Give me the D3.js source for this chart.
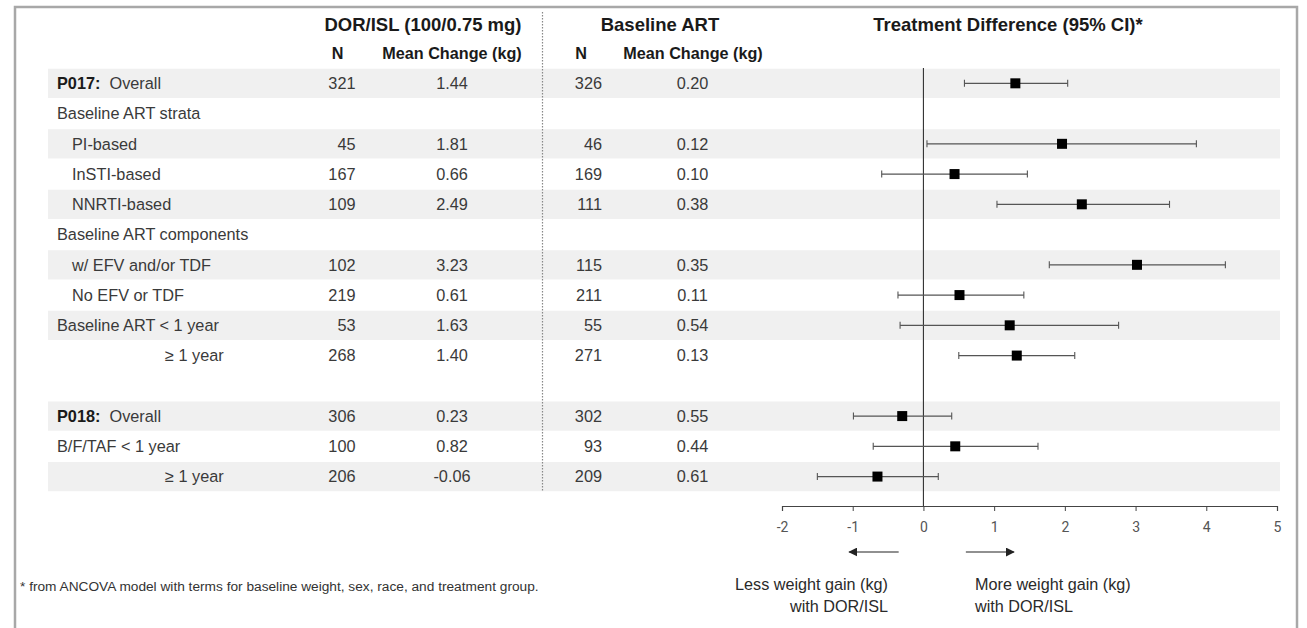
<!DOCTYPE html>
<html><head><meta charset="utf-8">
<script src="https://cdn.jsdelivr.net/npm/d3@7"></script>
<style>
html,body{margin:0;padding:0;background:#fff;}
svg text{font-family:"Liberation Sans",Arial,sans-serif;}
</style></head>
<body>
<svg id="chart" width="1307" height="628"></svg>
<script>
// ---------- data ----------
const labelBold = ["P017:", "", "", "", "", "", "", "", "", "", "", "P018:", "", ""];
const labelText = ["  Overall", "Baseline ART strata", "PI-based", "InSTI-based", "NNRTI-based",
  "Baseline ART components", "w/ EFV and/or TDF", "No EFV or TDF", "Baseline ART < 1 year",
  "\u2265 1 year", "", "  Overall", "B/F/TAF < 1 year", "\u2265 1 year"];
const labelLevel = [0, 0, 1, 1, 1, 0, 1, 1, 0, 2, 0, 0, 0, 2];
const nDor   = [321, null, 45, 167, 109, null, 102, 219, 53, 268, null, 306, 100, 206];
const mcDor  = [1.44, null, 1.81, 0.66, 2.49, null, 3.23, 0.61, 1.63, 1.40, null, 0.23, 0.82, -0.06];
const nBase  = [326, null, 46, 169, 111, null, 115, 211, 55, 271, null, 302, 93, 209];
const mcBase = [0.20, null, 0.12, 0.10, 0.38, null, 0.35, 0.11, 0.54, 0.13, null, 0.55, 0.44, 0.61];
const diffEst = [1.30, null, 1.96, 0.44, 2.24, null, 3.02, 0.51, 1.22, 1.32, null, -0.30, 0.45, -0.65];
const diffLo  = [0.58, null, 0.05, -0.59, 1.04, null, 1.78, -0.36, -0.33, 0.50, null, -0.99, -0.71, -1.50];
const diffHi  = [2.04, null, 3.86, 1.47, 3.48, null, 4.27, 1.42, 2.76, 2.14, null, 0.40, 1.62, 0.21];
const xTicks = [-2, -1, 0, 1, 2, 3, 4, 5];

// ---------- layout ----------
const svg = d3.select("#chart");
const idx = d3.range(labelText.length);
const y = d3.scaleBand().domain(idx).range([68.2, 68.2 + 14 * 30.25]).padding(0);
const x = d3.scaleLinear().domain([-2, 5]).range([782, 1277]);
const indentPx = [57, 72, 165];
const textCol = "#3a3a3a";
const fmt = v => v.toFixed(2);

// frame
svg.append("rect").attr("x", 15).attr("y", 7).attr("width", 1282).attr("height", 640)
  .attr("fill", "none").attr("stroke", "#a8a8a8").attr("stroke-width", 2.5);

// shading (alternating over non-blank rows)
let k = 0;
const shade = idx.map(i => { if (labelText[i] === "" ) return false; const s = k % 2 === 0; k++; return s; });
svg.append("g").selectAll("rect").data(idx.filter(i => shade[i])).join("rect")
  .attr("x", 48).attr("width", 1232).attr("y", i => y(i) + 0.5).attr("height", y.bandwidth() - 1)
  .attr("fill", "#f0f0f0");

// dotted separator
svg.append("line").attr("x1", 542.5).attr("x2", 542.5).attr("y1", 12).attr("y2", 491)
  .attr("stroke", "#888").attr("stroke-width", 1.2).attr("stroke-dasharray", "1.5,1.5");

// headers
const hdr = svg.append("g").attr("fill", "#1a1a1a").attr("font-weight", "bold");
hdr.append("text").attr("x", 423).attr("y", 31).attr("text-anchor", "middle").attr("font-size", 18.5).text("DOR/ISL (100/0.75 mg)");
hdr.append("text").attr("x", 660).attr("y", 31).attr("text-anchor", "middle").attr("font-size", 18.5).text("Baseline ART");
hdr.append("text").attr("x", 1008).attr("y", 31).attr("text-anchor", "middle").attr("font-size", 18.5).text("Treatment Difference (95% CI)*");
hdr.append("text").attr("x", 337.5).attr("y", 59).attr("text-anchor", "middle").attr("font-size", 16.2).text("N");
hdr.append("text").attr("x", 452).attr("y", 59).attr("text-anchor", "middle").attr("font-size", 16.2).text("Mean Change (kg)");
hdr.append("text").attr("x", 581).attr("y", 59).attr("text-anchor", "middle").attr("font-size", 16.2).text("N");
hdr.append("text").attr("x", 693).attr("y", 59).attr("text-anchor", "middle").attr("font-size", 16.2).text("Mean Change (kg)");

// row labels
const rows = svg.append("g").attr("font-size", 16.3).attr("fill", textCol);
rows.selectAll("text.lab").data(idx.filter(i => labelText[i] !== "")).join("text")
  .attr("class", "lab")
  .attr("x", i => indentPx[labelLevel[i]])
  .attr("y", i => y(i) + y.bandwidth() / 2).attr("dy", "0.36em")
  .attr("xml:space", "preserve")
  .each(function(i) {
    const t = d3.select(this);
    if (labelBold[i]) t.append("tspan").attr("font-weight", "bold").attr("fill", "#1a1a1a").text(labelBold[i]);
    t.append("tspan").text(labelText[i]);
  });

// numeric columns
function numCol(vals, xpos, anchor, f) {
  rows.append("g").selectAll("text").data(idx.filter(i => vals[i] !== null)).join("text")
    .attr("x", xpos).attr("text-anchor", anchor)
    .attr("y", i => y(i) + y.bandwidth() / 2).attr("dy", "0.36em")
    .text(i => f(vals[i]));
}
numCol(nDor, 355.5, "end", v => String(v));
numCol(mcDor, 452, "middle", fmt);
numCol(nBase, 602, "end", v => String(v));
numCol(mcBase, 692.5, "middle", fmt);

// zero line
svg.append("line").attr("x1", x(0)).attr("x2", x(0)).attr("y1", 68).attr("y2", 506)
  .attr("stroke", "#333").attr("stroke-width", 1.1);

// forest plot
const fp = svg.append("g");
const fidx = idx.filter(i => diffEst[i] !== null);
fp.selectAll("line.ci").data(fidx).join("line").attr("class", "ci")
  .attr("x1", i => x(diffLo[i])).attr("x2", i => x(diffHi[i]))
  .attr("y1", i => y(i) + y.bandwidth() / 2).attr("y2", i => y(i) + y.bandwidth() / 2)
  .attr("stroke", "#555").attr("stroke-width", 1.1);
["lo", "hi"].forEach(side => {
  fp.selectAll("line.cap" + side).data(fidx).join("line").attr("class", "cap" + side)
    .attr("x1", i => x(side === "lo" ? diffLo[i] : diffHi[i]))
    .attr("x2", i => x(side === "lo" ? diffLo[i] : diffHi[i]))
    .attr("y1", i => y(i) + y.bandwidth() / 2 - 3.5).attr("y2", i => y(i) + y.bandwidth() / 2 + 3.5)
    .attr("stroke", "#555").attr("stroke-width", 1.1);
});
fp.selectAll("rect").data(fidx).join("rect")
  .attr("x", i => x(diffEst[i]) - 5).attr("y", i => y(i) + y.bandwidth() / 2 - 5)
  .attr("width", 10).attr("height", 10).attr("fill", "#000");

// axis
const axis = svg.append("g").attr("transform", "translate(0,506)")
  .call(d3.axisBottom(x).tickValues(xTicks).tickSize(5).tickPadding(11).tickFormat(d3.format("d")));
axis.select(".domain").attr("stroke", "#444").attr("stroke-width", 1.2);
axis.selectAll(".tick line").attr("stroke", "#444");
axis.selectAll(".tick text").attr("fill", "#555").attr("font-size", 14)
  .style("font-family", "Roboto, 'Liberation Sans', sans-serif")
  .text(d => d < 0 ? "-" + Math.abs(d) : String(d));

// arrows
const defs = svg.append("defs");
defs.append("marker").attr("id", "ah").attr("viewBox", "0 0 10 10").attr("refX", 9).attr("refY", 5)
  .attr("markerWidth", 9).attr("markerHeight", 9).attr("markerUnits", "userSpaceOnUse").attr("orient", "auto")
  .append("path").attr("d", "M0,0 L10,5 L0,10 z").attr("fill", "#222");
svg.append("line").attr("x1", x(-0.35)).attr("x2", x(-1.05)).attr("y1", 552).attr("y2", 552)
  .attr("stroke", "#222").attr("stroke-width", 1.2).attr("marker-end", "url(#ah)");
svg.append("line").attr("x1", x(0.6)).attr("x2", x(1.28)).attr("y1", 552).attr("y2", 552)
  .attr("stroke", "#222").attr("stroke-width", 1.2).attr("marker-end", "url(#ah)");

const ann = svg.append("g").attr("font-size", 16.2).attr("fill", "#2a2a2a");
ann.append("text").attr("x", 888).attr("y", 590).attr("text-anchor", "end").text("Less weight gain (kg)");
ann.append("text").attr("x", 888).attr("y", 612).attr("text-anchor", "end").text("with DOR/ISL");
ann.append("text").attr("x", 975).attr("y", 590).attr("text-anchor", "start").text("More weight gain (kg)");
ann.append("text").attr("x", 975).attr("y", 612).attr("text-anchor", "start").text("with DOR/ISL");

// footnote
svg.append("text").attr("x", 20).attr("y", 591).attr("font-size", 13.7).attr("fill", "#333")
  .text("* from ANCOVA model with terms for baseline weight, sex, race, and treatment group.");
</script>
</body></html>
